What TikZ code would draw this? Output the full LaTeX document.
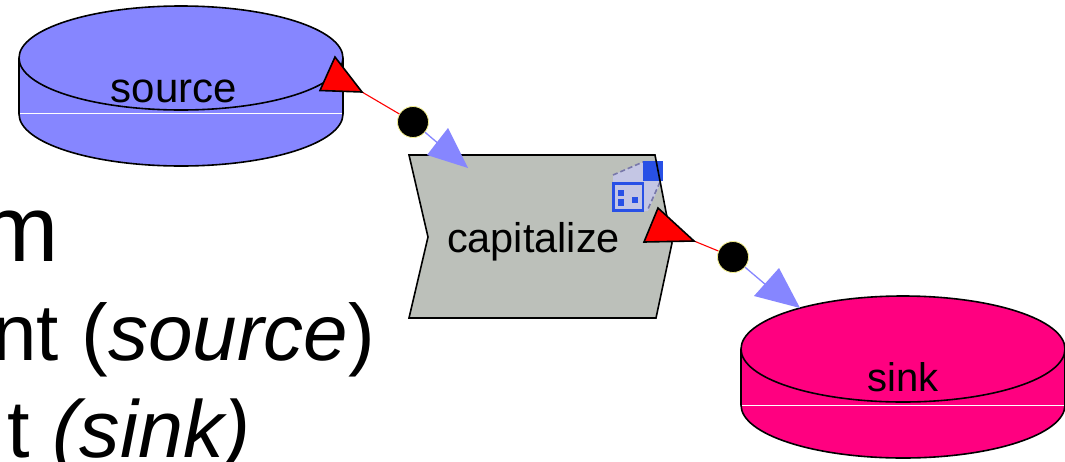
\documentclass[tikz,border=0pt]{standalone}
\usepackage{fontspec}
\setmainfont{Liberation Sans}
\definecolor{srcblue}{RGB}{134,134,255}
\definecolor{sinkpink}{RGB}{255,0,128}
\definecolor{actorgrey}{RGB}{188,192,186}
\definecolor{iconblue}{RGB}{40,80,230}
\definecolor{iconlight}{RGB}{196,198,228}
\definecolor{icondash}{RGB}{120,120,170}
\definecolor{halo}{RGB}{245,240,140}
\tikzset{
  cyl/.style={draw=black,line width=1.6pt},
  redtip/.style={draw=black,line width=1.6pt,fill=red,line join=miter},
  bluetip/.style={fill=srcblue,draw=none},
  dot/.style={circle,fill=black,draw=halo,line width=0.8pt,minimum size=31pt,inner sep=0pt},
  redwire/.style={draw=red,line width=1.1pt},
  bluewire/.style={draw=srcblue,line width=1.3pt},
  diagramlabel/.style={font=\fontsize{40}{40}\selectfont,inner sep=0pt,anchor=base},
  slidetext/.style={inner sep=0pt,anchor=base east}
}
\begin{document}
\begin{tikzpicture}[x=1pt,y=-1pt]
\useasboundingbox (0,0) rectangle (1065,461);
\fill[white] (0,0) rectangle (1065,461);
% slide text
\node[slidetext,font=\fontsize{94}{94}\selectfont] (tm) at (59,261) {m};
\node[slidetext,font=\fontsize{80}{80}\selectfont] (tsource) at (375,360) {nt (\textit{source})};
\node[slidetext,font=\fontsize{81}{81}\selectfont] (tsink) at (251,457) {t \textit{(sink)}};
% source cylinder
\path[cyl,fill=srcblue] (19,58) -- (19,114) arc[start angle=180,end angle=0,x radius=162,y radius=52] -- (343,58) arc[start angle=0,end angle=-180,x radius=162,y radius=52] -- cycle;
\draw[white,line width=1.3pt] (20,113.5) -- (342,113.5);
\draw[cyl] (19,58) arc[start angle=180,end angle=0,x radius=162,y radius=52];
\node[diagramlabel,font=\fontsize{42}{42}\selectfont] (source) at (174,102) {source};
% sink cylinder
\path[cyl,fill=sinkpink] (741,349) -- (741,405) arc[start angle=180,end angle=0,x radius=162,y radius=53] -- (1065,349) arc[start angle=0,end angle=-180,x radius=162,y radius=53] -- cycle;
\draw[white,line width=1.3pt] (742,405.5) -- (1064,405.5);
\draw[cyl] (741,349) arc[start angle=180,end angle=0,x radius=162,y radius=53];
\node[diagramlabel] (sink) at (903,391) {sink};
% actor
\fill[actorgrey] (409,155) -- (655,155) -- (672,243) -- (656,318) -- (409,318) -- (428,237) -- cycle;
\fill[iconlight] (613,175) -- (643,162) -- (663,170) -- (661,182) -- (648,211) -- (613,211) -- cycle;
\draw[icondash,line width=1.6pt,dash pattern=on 5pt off 3pt] (613,175) -- (643,162);
\draw[icondash,line width=1.6pt,dash pattern=on 5pt off 3pt] (660,182) -- (648,209);
\fill[iconblue] (643,161) rectangle (663,181);
\draw[iconblue,line width=2.4pt,fill=iconlight] (613.5,183.5) rectangle (643,210.5);
\fill[iconblue] (618,190) rectangle (624,196);
\fill[iconblue] (618,198.5) rectangle (624,205.5);
\fill[iconblue] (631.5,196.5) rectangle (638,203);
\draw[black,line width=1.6pt,line join=miter] (409,155) -- (655,155) -- (672,243) -- (656,318) -- (409,318) -- (428,237) -- cycle;
\node[diagramlabel,font=\fontsize{41.5}{41.5}\selectfont] (capitalize) at (533.5,252) {capitalize};
% connectors
\node[dot] (d1) at (413,122) {};
\node[dot] (d2) at (733,257) {};
\coordinate (s1) at (362,92);
\coordinate (t1) at (440,145);
\coordinate (s2) at (694,241);
\coordinate (t2) at (766,285);
\draw[redwire] (s1) -- (d1);
\draw[bluewire] (d1) -- (t1);
\draw[redwire] (s2) -- (d2);
\draw[bluewire] (d2) -- (t2);
% arrowheads
\draw[redtip] (335,57) -- (320,90.5) -- (s1) -- cycle;
\draw[redtip] (658,208) -- (644,242) -- (s2) -- cycle;
\fill[bluetip] (448,128) -- (427,155) -- (468,168) -- cycle;
\fill[bluetip] (779,268) -- (754,296) -- (800,308) -- cycle;
\end{tikzpicture}
\end{document}
